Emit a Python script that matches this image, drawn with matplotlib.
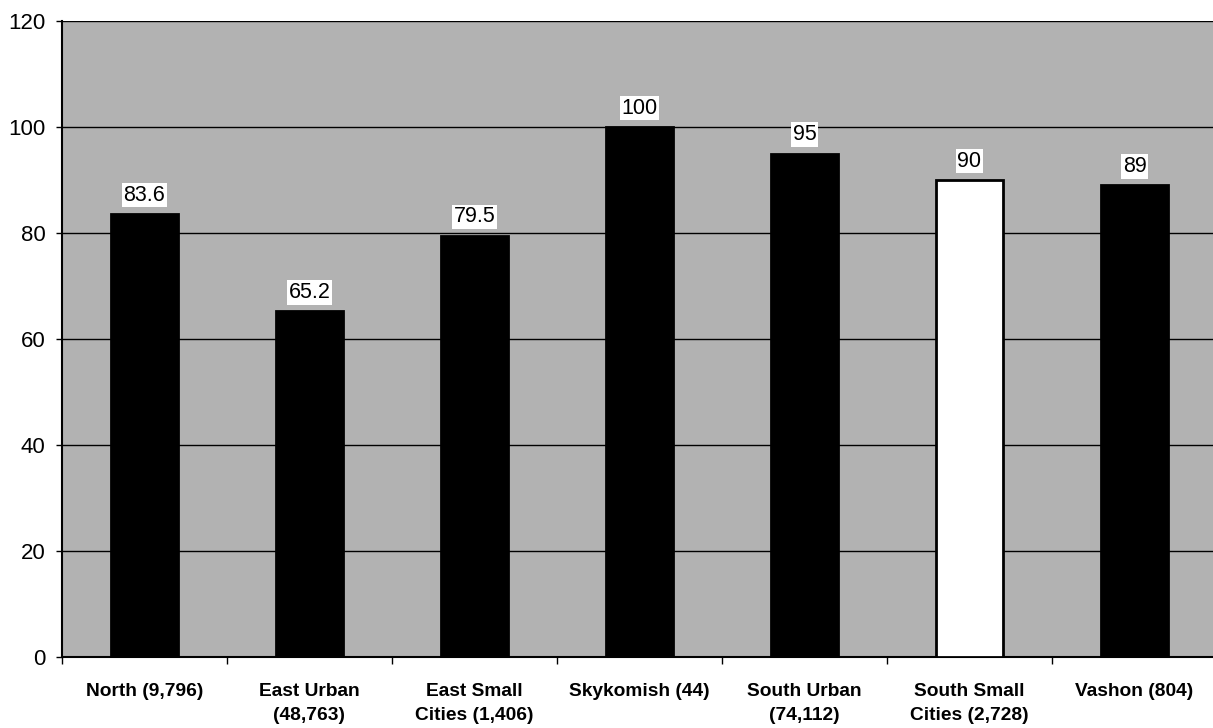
import matplotlib
matplotlib.use("Agg")
import matplotlib.pyplot as plt

categories = ["North (9,796)", "East Urban\n(48,763)", "East Small\nCities (1,406)",
              "Skykomish (44)", "South Urban\n(74,112)", "South Small\nCities (2,728)",
              "Vashon (804)"]
values = [83.6, 65.2, 79.5, 100, 95, 90, 89]
value_labels = ["83.6", "65.2", "79.5", "100", "95", "90", "89"]
bar_colors = ["black", "black", "black", "black", "black", "white", "black"]
yticks = [0, 20, 40, 60, 80, 100, 120]

plt.rcParams['font.family'] = ['Liberation Sans', 'DejaVu Sans']

fig = plt.figure(figsize=(12.13, 7.28), dpi=100)
ax = fig.add_axes([62/1213, 71/728, 1155/1213, 636/728])
ax.set_facecolor("#b2b2b2")

x = list(range(len(categories)))
ax.bar(x, values, width=0.41, color=bar_colors, edgecolor="black", linewidth=2, zorder=3)

for xi, v, lab in zip(x, values, value_labels):
    ax.annotate(lab, (xi, v), xytext=(0, 6), textcoords="offset points",
                ha="center", va="bottom", fontsize=15.5, zorder=4,
                bbox=dict(boxstyle="square,pad=0.08", fc="white", ec="none"))

ax.set_xlim(-0.5, len(categories) - 0.5)
ax.set_ylim(0, 120)
ax.set_yticks(yticks)
ax.set_yticklabels([str(t) for t in yticks], fontsize=16)
ax.yaxis.grid(True, color="black", linewidth=1, zorder=1)
ax.set_axisbelow(True)

ax.set_xticks(x)
ax.set_xticklabels(categories, fontsize=13.8, fontweight="bold", linespacing=1.5)
ax.tick_params(axis="x", length=0, pad=19)
ax.set_xticks([i - 0.5 for i in range(len(categories) + 1)], minor=True)
ax.tick_params(axis="x", which="minor", length=5, width=1)
ax.tick_params(axis="y", length=4, width=1, pad=8)

for s in ["left", "bottom"]:
    ax.spines[s].set_linewidth(1.5)
    ax.spines[s].set_color("black")
ax.spines["top"].set_visible(False)
ax.spines["right"].set_visible(False)

fig.savefig("out.png", dpi=100)
